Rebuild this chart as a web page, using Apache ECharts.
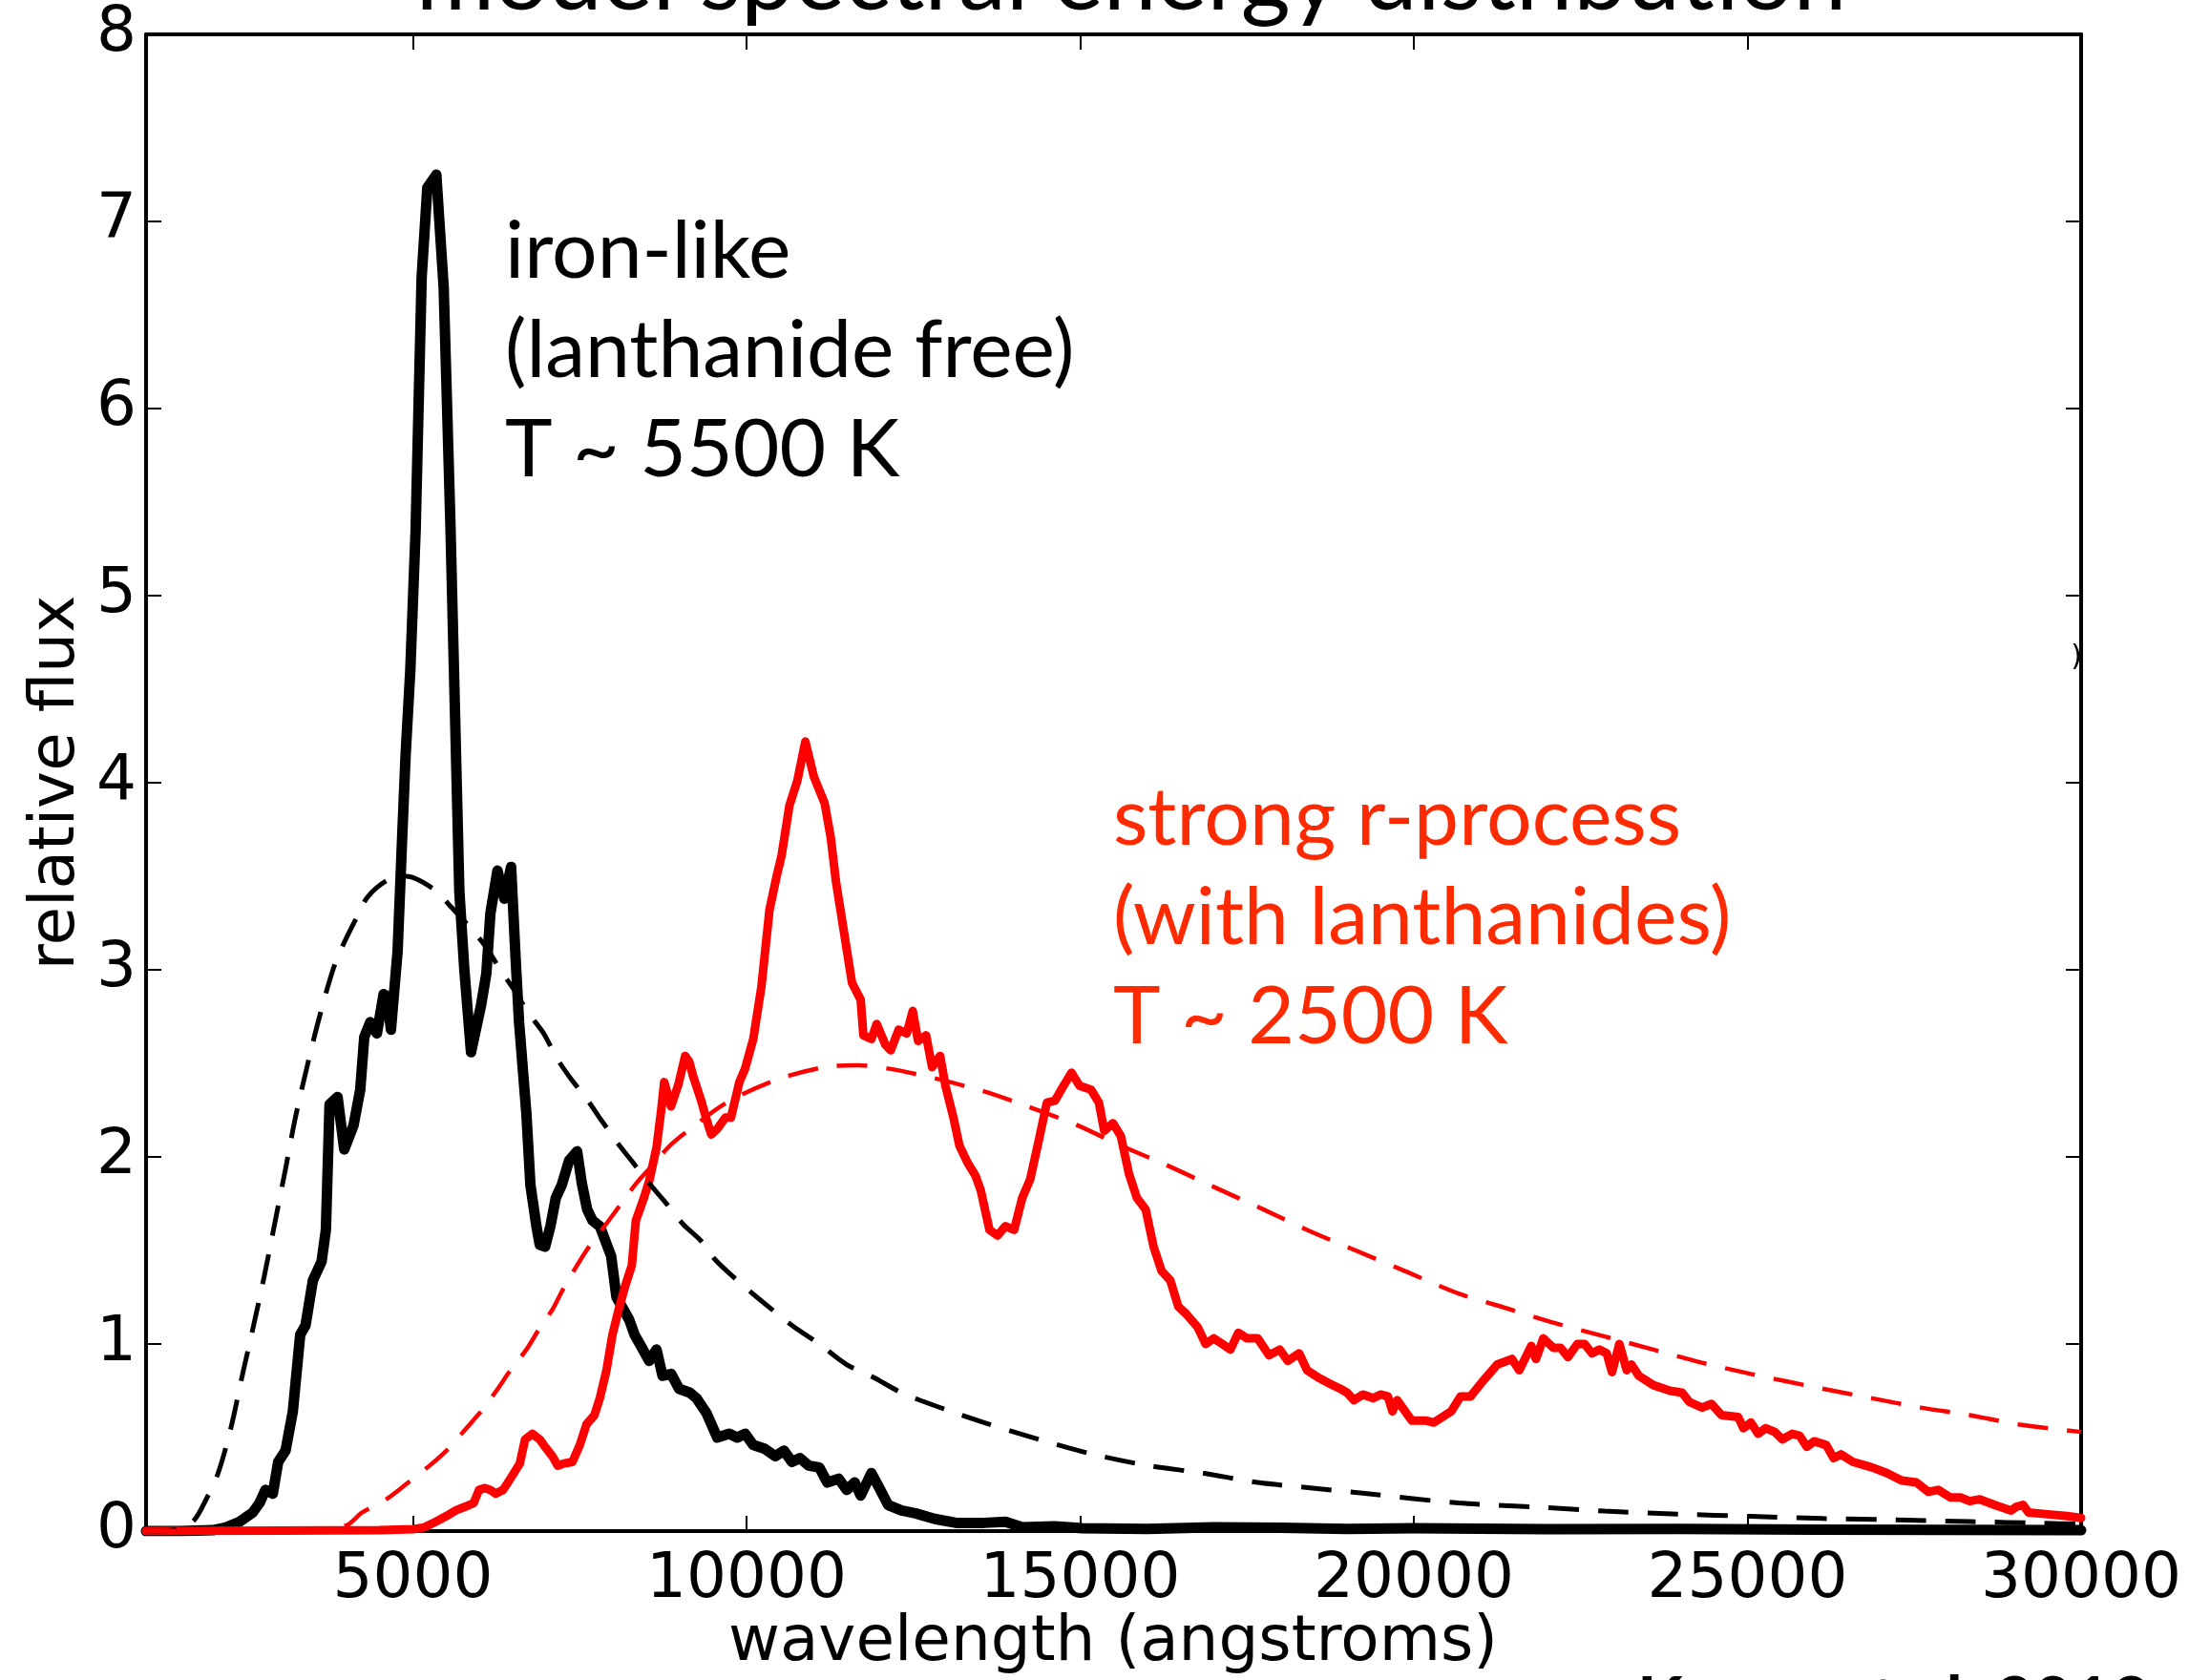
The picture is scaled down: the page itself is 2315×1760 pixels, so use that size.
<!DOCTYPE html>
<html>
<head>
<meta charset="utf-8">
<script src="https://cdn.jsdelivr.net/npm/echarts@6/dist/echarts.min.js"></script>
<style>
html,body{margin:0;padding:0;background:#fff;}
#chart{width:2315px;height:1760px;}
</style>
</head>
<body>
<div id="chart"></div>
<script>
// ---- data ----
const wavelengthTicks = [5000, 10000, 15000, 20000, 25000, 30000];
const fluxTicks = [0, 1, 2, 3, 4, 5, 6, 7, 8];

// iron-like (lanthanide free) model spectrum  [wavelength, flux]
const ironLike = [[1000,0],[1500,0],[2000,0.005],[2200,0.02],[2400,0.05],[2600,0.10],[2700,0.15],[2790,0.22],[2900,0.20],[2980,0.37],[3090,0.43],[3200,0.64],[3310,1.05],[3390,1.10],[3500,1.34],[3630,1.44],[3695,1.61],[3750,2.28],[3870,2.32],[3970,2.04],[4110,2.17],[4210,2.36],[4270,2.64],[4360,2.72],[4460,2.66],[4560,2.87],[4610,2.86],[4670,2.68],[4770,3.10],[4835,3.68],[4890,4.15],[4960,4.6],[5040,5.35],[5130,6.7],[5215,7.18],[5350,7.25],[5460,6.65],[5560,5.4],[5645,4.15],[5695,3.42],[5770,3.0],[5870,2.56],[6020,2.81],[6100,2.98],[6160,3.30],[6266,3.53],[6369,3.38],[6471,3.55],[6540,3.05],[6590,2.72],[6700,2.23],[6760,1.85],[6850,1.63],[6900,1.53],[6980,1.52],[7060,1.63],[7140,1.78],[7230,1.85],[7340,1.98],[7460,2.03],[7530,1.86],[7610,1.72],[7690,1.66],[7800,1.63],[7970,1.47],[8050,1.25],[8130,1.20],[8240,1.13],[8320,1.05],[8400,1.00],[8540,0.91],[8650,0.97],[8740,0.83],[8870,0.84],[8990,0.76],[9150,0.74],[9250,0.71],[9400,0.63],[9560,0.50],[9740,0.52],[9860,0.50],[9980,0.52],[10100,0.46],[10270,0.44],[10430,0.40],[10560,0.43],[10680,0.37],[10800,0.39],[10930,0.35],[11090,0.34],[11210,0.26],[11380,0.28],[11500,0.22],[11620,0.26],[11710,0.19],[11870,0.31],[11990,0.23],[12120,0.14],[12320,0.11],[12530,0.095],[12820,0.065],[13140,0.044],[13560,0.044],[13880,0.05],[14130,0.02],[14620,0.026],[15030,0.015],[16000,0.012],[17000,0.02],[18000,0.018],[19000,0.012],[20000,0.015],[22000,0.01],[24000,0.012],[26000,0.008],[28000,0.006],[30000,0.005]];

// blackbody-like fit, T ~ 5500 K
const ironLikeBB = [[1000,0],[1400,0.005],[1700,0.05],[1915,0.18],[2080,0.31],[2271,0.55],[2435,0.82],[2600,1.08],[2770,1.36],[2937,1.66],[3087,1.93],[3238,2.21],[3418,2.49],[3600,2.75],[3810,3.01],[3962,3.14],[4142,3.27],[4322,3.39],[4623,3.48],[4900,3.50],[5315,3.43],[5587,3.33],[5870,3.22],[6098,3.12],[6309,3.00],[6520,2.89],[6730,2.77],[6959,2.66],[7152,2.53],[7362,2.42],[7604,2.31],[7815,2.20],[8055,2.08],[8297,1.97],[8537,1.86],[8777,1.76],[9049,1.64],[9320,1.55],[9530,1.45],[9860,1.34],[10190,1.24],[10680,1.10],[11090,1.00],[11500,0.89],[11910,0.82],[12320,0.74],[12980,0.65],[13560,0.58],[14380,0.49],[15200,0.41],[16020,0.35],[16840,0.31],[17660,0.26],[18480,0.23],[19300,0.20],[20670,0.15],[21760,0.13],[22860,0.107],[23950,0.091],[25050,0.079],[26140,0.067],[27240,0.06],[28330,0.051],[29430,0.042],[30000,0.037]];

// strong r-process (with lanthanides) model spectrum
const rProcess = [[1000,0],[3000,0.002],[4500,0.005],[5000,0.01],[5170,0.02],[5340,0.05],[5500,0.08],[5640,0.11],[5780,0.13],[5910,0.15],[5990,0.22],[6080,0.23],[6160,0.22],[6240,0.20],[6350,0.22],[6460,0.28],[6600,0.36],[6680,0.49],[6790,0.52],[6900,0.49],[6980,0.45],[7090,0.40],[7170,0.35],[7250,0.36],[7390,0.37],[7500,0.46],[7600,0.57],[7720,0.62],[7800,0.71],[7900,0.86],[7990,1.05],[8080,1.18],[8180,1.31],[8280,1.42],[8340,1.66],[8460,1.78],[8540,1.87],[8650,2.05],[8720,2.25],[8766,2.40],[8867,2.27],[8980,2.39],[9079,2.54],[9140,2.51],[9200,2.43],[9320,2.30],[9400,2.20],[9470,2.12],[9560,2.15],[9682,2.21],[9765,2.21],[9892,2.40],[9976,2.47],[10100,2.63],[10222,2.91],[10343,3.32],[10450,3.50],[10524,3.61],[10643,3.88],[10760,4.01],[10880,4.22],[11010,4.03],[11170,3.89],[11260,3.71],[11340,3.47],[11460,3.20],[11580,2.93],[11710,2.84],[11750,2.65],[11870,2.63],[11950,2.71],[12080,2.60],[12160,2.57],[12280,2.68],[12400,2.66],[12490,2.78],[12570,2.62],[12690,2.65],[12780,2.48],[12900,2.54],[12980,2.38],[13100,2.21],[13190,2.06],[13310,1.97],[13430,1.90],[13510,1.82],[13640,1.61],[13760,1.58],[13880,1.63],[14010,1.61],[14130,1.78],[14250,1.88],[14380,2.09],[14500,2.29],[14620,2.30],[14750,2.38],[14870,2.45],[14990,2.38],[15160,2.36],[15280,2.29],[15360,2.14],[15490,2.18],[15610,2.11],[15730,1.91],[15850,1.78],[15980,1.72],[16100,1.52],[16220,1.39],[16350,1.34],[16470,1.20],[16590,1.16],[16760,1.09],[16880,1.00],[17000,1.03],[17130,1.00],[17250,0.97],[17370,1.06],[17500,1.03],[17660,1.03],[17830,0.94],[17990,0.97],[18110,0.91],[18280,0.95],[18400,0.86],[18570,0.82],[18730,0.79],[18900,0.76],[19000,0.74],[19100,0.70],[19240,0.73],[19390,0.71],[19500,0.73],[19610,0.72],[19680,0.64],[19750,0.70],[19970,0.59],[20190,0.59],[20300,0.58],[20560,0.64],[20700,0.72],[20850,0.72],[21030,0.80],[21250,0.89],[21470,0.92],[21580,0.86],[21760,0.99],[21830,0.92],[21940,1.03],[22090,0.98],[22200,0.98],[22310,0.93],[22450,1.00],[22560,1.00],[22670,0.95],[22780,0.97],[22890,0.95],[22970,0.85],[23080,1.00],[23190,0.86],[23260,0.89],[23370,0.83],[23590,0.78],[23840,0.75],[24020,0.74],[24130,0.69],[24320,0.66],[24460,0.68],[24610,0.62],[24860,0.61],[24940,0.55],[25050,0.58],[25160,0.52],[25270,0.55],[25410,0.53],[25520,0.49],[25670,0.52],[25780,0.51],[25890,0.45],[26000,0.48],[26180,0.46],[26290,0.39],[26400,0.41],[26580,0.37],[26870,0.34],[27090,0.31],[27310,0.27],[27530,0.26],[27710,0.21],[27860,0.22],[28040,0.18],[28190,0.18],[28330,0.16],[28480,0.17],[28700,0.14],[28950,0.11],[29030,0.13],[29130,0.14],[29210,0.10],[29500,0.09],[29790,0.08],[30000,0.07]];

// blackbody-like fit, T ~ 2500 K
const rProcessBB = [[1000,0],[3500,0.005],[4000,0.03],[4240,0.10],[4600,0.17],[4930,0.26],[5250,0.35],[5530,0.44],[5800,0.55],[6020,0.64],[6250,0.75],[6480,0.87],[6700,0.97],[6890,1.08],[7100,1.19],[7260,1.30],[7600,1.50],[7850,1.62],[8100,1.74],[8350,1.86],[8600,1.96],[8850,2.06],[9120,2.14],[9700,2.29],[10430,2.41],[11170,2.48],[11670,2.49],[12160,2.47],[12820,2.42],[13560,2.35],[14210,2.27],[14950,2.17],[15610,2.06],[16270,1.96],[17000,1.84],[17740,1.72],[18400,1.61],[19060,1.51],[19800,1.40],[20670,1.27],[21400,1.19],[22130,1.11],[22860,1.04],[23590,0.97],[24320,0.90],[25050,0.84],[26140,0.76],[26870,0.71],[27600,0.66],[28330,0.62],[29060,0.57],[30000,0.53]];

const ironLabel = ['iron-like', '(lanthanide free)', 'T ~ 5500 K'];
const rLabel = ['strong r-process', '(with lanthanides)', 'T ~ 2500 K'];

// ---- chart ----
const chart = echarts.init(document.getElementById('chart'), null, {renderer: 'canvas'});
const AX = 'DejaVu Sans';
const ANN = 'Lato';
const RED_TEXT = '#ff2a00';

function xAxisCfg(pos, showLabels) {
  return {
    type: 'value', position: pos, min: 1000, max: 30000,
    axisLine: {show: true, onZero: false, lineStyle: {color: '#000', width: 4}},
    axisTick: {show: true, inside: true, length: 16, lineStyle: {color: '#000', width: 2}, customValues: wavelengthTicks},
    axisLabel: {show: showLabels, customValues: wavelengthTicks, fontFamily: AX, fontSize: 66, color: '#000', margin: 19,
      formatter: v => String(v)},
    splitLine: {show: false}
  };
}
function yAxisCfg(pos, showLabels) {
  return {
    type: 'value', position: pos, min: 0, max: 8, interval: 1,
    axisLine: {show: true, onZero: false, lineStyle: {color: '#000', width: 4}},
    axisTick: {show: true, inside: true, length: 16, lineStyle: {color: '#000', width: 2}},
    axisLabel: {show: showLabels, fontFamily: AX, fontSize: 66, color: '#000', margin: 10,
      formatter: v => (fluxTicks.indexOf(v) >= 0 ? String(v) : '')},
    splitLine: {show: false}
  };
}

function annot(lines, x, y0, color) {
  return lines.map((t, i) => ({
    type: 'text', x: x, y: y0 + i * 104,
    style: {text: t, fill: color, font: '84px ' + ANN, textAlign: 'left', textVerticalAlign: 'bottom'}
  }));
}

const option = {
  backgroundColor: '#fff',
  animation: false,
  grid: {left: 153, top: 36, width: 2027, height: 1568, containLabel: false},
  xAxis: [xAxisCfg('bottom', true), xAxisCfg('top', false)],
  yAxis: [yAxisCfg('left', true), yAxisCfg('right', false)],
  series: [
    {type: 'line', name: 'iron-like', data: ironLike, showSymbol: false, symbol: 'none',
     lineStyle: {color: '#000', width: 11, join: 'round', cap: 'round'}, z: 3},
    {type: 'line', name: 'r-process', data: rProcess, showSymbol: false, symbol: 'none',
     lineStyle: {color: '#ff0000', width: 9, join: 'round', cap: 'round'}, z: 4},
    {type: 'line', name: 'iron-like blackbody', data: ironLikeBB, showSymbol: false, symbol: 'none', smooth: 0.3,
     lineStyle: {color: '#000', width: 5, type: [32, 20]}, z: 5},
    {type: 'line', name: 'r-process blackbody', data: rProcessBB, showSymbol: false, symbol: 'none', smooth: 0.3,
     lineStyle: {color: '#ff0000', width: 4.5, type: [32, 20]}, z: 6}
  ],
  graphic: [
    {type: 'text', x: 1185, y: -22, style: {text: 'model spectral energy distribution', fill: '#000',
      font: '100px ' + ANN, textAlign: 'center', textVerticalAlign: 'middle'}},
    {type: 'text', x: 1166, y: 1722, style: {text: 'wavelength (angstroms)', fill: '#000',
      font: '66px ' + AX, textAlign: 'center', textVerticalAlign: 'middle'}},
    {type: 'text', x: 60, y: 820, rotation: Math.PI / 2, style: {text: 'relative flux', fill: '#000',
      font: '66px ' + AX, textAlign: 'center', textVerticalAlign: 'middle'}},
    {type: 'text', x: 2252, y: 1784, style: {text: 'Kasen et al. 2013', fill: '#000',
      font: 'bold 70px ' + ANN, textAlign: 'right', textVerticalAlign: 'middle'}},
    {type: 'text', x: 2175, y: 689, style: {text: ')', fill: '#000',
      font: '30px ' + AX, textAlign: 'center', textVerticalAlign: 'middle'}}
  ].concat(annot(ironLabel, 529, 306, '#000')).concat(annot(rLabel, 1166, 900, RED_TEXT))
};
chart.setOption(option);
</script>
</body>
</html>
